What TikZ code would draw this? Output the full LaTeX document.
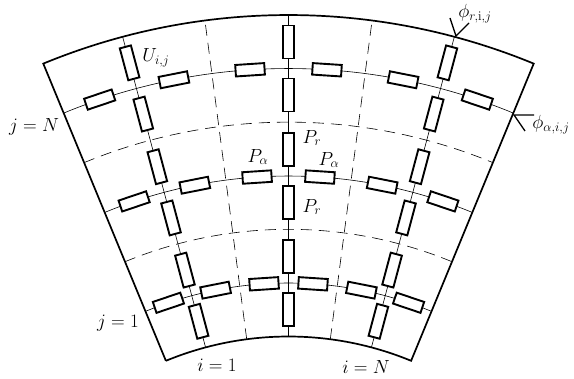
\RequirePackage{fix-cm}
\documentclass[tikz,border=0pt]{standalone}
\usepackage{amsmath,amssymb}
\usepackage{tikz}
\usetikzlibrary{positioning,arrows.meta,calc}

\DeclareMathSizes{19}{19}{13}{10}

\newcommand{\rout}{643}
\newcommand{\rin}{321.5}

\begin{document}
\begin{tikzpicture}[
  x=1pt, y=1pt,
  cell/.style={rectangle, draw, line width=1.9pt, fill=white, minimum width=33pt, minimum height=11.5pt, inner sep=0pt},
  cella/.style={cell, minimum width=29pt},
  thinline/.style={line width=0.6pt},
  dashline/.style={line width=0.6pt, dash pattern=on 11pt off 7pt},
  border/.style={line width=1.7pt},
  label/.style={font=\fontsize{19}{22}\selectfont, inner sep=0pt}
]
  \useasboundingbox (0,0) rectangle (574,379);

  \coordinate (apex) at (288.5,-279);

  \begin{scope}[shift={(apex)}]
    % dashed cell limits
    \foreach \r in {428.7,535.9}
      \draw[dashline] (112.42:\r) arc[start angle=112.42, end angle=67.58, radius=\r];
    \foreach \a in {97.47,82.53}
      \draw[dashline] (\a:\rin) -- (\a:\rout);

    % centre lines
    \foreach \r in {375,482,589.5}
      \draw[thinline] (112.42:\r) arc[start angle=112.42, end angle=67.58, radius=\r];
    \foreach \a in {104.95,90,75.05}
      \draw[thinline] (\a:\rin) -- (\a:\rout);

    % radial resistances
    \foreach \a in {104.95,90,75.05}
      \foreach \r in {348.5,401.5,455.5,508.5,563,616}
        \node[cell, rotate=\a] (rad-\a-\r) at (\a:\r) {};

    % tangential resistances
    \foreach \a in {108.68,101.21,93.74,86.26,78.79,71.32}
      \foreach \r in {375,482,589.5}
        \node[cella, rotate=\a-90] (tan-\a-\r) at (\a:\r) {};

    % border
    \draw[border] (112.42:\rin) coordinate (sw) -- (112.42:\rout) coordinate (nw)
      arc[start angle=112.42, end angle=67.58, radius=\rout] coordinate (ne)
      -- (67.58:\rin) coordinate (se)
      arc[start angle=67.58, end angle=112.42, radius=\rin];
  \end{scope}

  % fluxes
  \coordinate (fluxr) at (456,343);
  \coordinate (fluxa) at (514,264);
  \draw[line width=1.3pt] (450,361) -- (fluxr) -- (469,356);
  \draw[line width=1.3pt] (534,264) -- (fluxa) -- (525,248);

  \node[label] (uij) at (156,321) {$U_{i,j}$};
  \node[label] (jn) at (34,252) {$j=N$};
  \node[label] (jone) at (118,56) {$j=1$};
  \node[label] (ione) at (217,14) {$i=1$};
  \node[label] (in) at (366,12) {$i=N$};
  \node[label] (pa) at (258,222) {$P_\alpha$};
  \node[label] (pr) at (312,241) {$P_r$};
  \node[label] (pb) at (329,219) {$P_\alpha$};
  \node[label] (pc) at (312,172) {$P_r$};
  \node[label] (phir) at (475,365) {$\phi_{r,\mathrm{i},j}$};
  \node[label] (phia) at (551,254) {$\phi_{\alpha,i,j}$};
\end{tikzpicture}
\end{document}
